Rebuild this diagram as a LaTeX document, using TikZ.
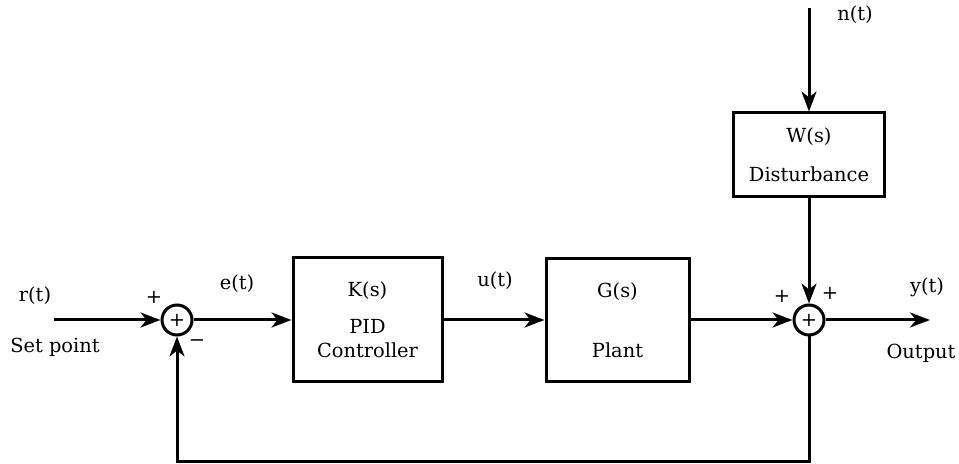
\documentclass[tikz,border=0pt]{standalone}
\usepackage{fontspec}
\setmainfont{DejaVu Serif}
\usepackage{tikz}
\usetikzlibrary{arrows.meta,positioning,calc}
\tikzset{
  block/.style={draw, line width=1.5pt, align=center, inner sep=0pt},
  sumnode/.style={draw, circle, line width=1.5pt, minimum size=15pt, inner sep=0pt},
  lbl/.style={inner sep=0pt},
  arr/.style={-{Stealth[length=10pt,width=7.5pt,inset=3pt]}, line width=1.5pt},
}

\begin{document}
\begin{tikzpicture}[x=0.5pt, y=-0.5pt, font=\fontsize{9.7}{12}\selectfont]
  \useasboundingbox (0,0) rectangle (959,464);
  % summing junctions and blocks
  \node[sumnode] (sum1) at (177,320) {+};
  \node[block, right=49pt of sum1, minimum width=74.5pt, minimum height=62pt] (K)
    {K(s)\\[6.5pt]PID\\Controller};
  \node[block, right=50.5pt of K, minimum width=71.5pt, minimum height=61.5pt] (G)
    {G(s)\\[18pt]Plant};
  \node[sumnode, right=51pt of G] (sum2) {+};
  \node[block, above=52.5pt of sum2, minimum width=75.5pt, minimum height=42pt] (W)
    {W(s)\\[7.5pt]Disturbance};
  % free ends
  \coordinate (in) at (54,320);
  \coordinate (out) at (930,320);
  \coordinate (nin) at (sum2 |- 0,8);
  % signals
  \draw[arr] (in) -- (sum1);
  \draw[arr] (sum1) -- (K);
  \draw[arr] (K) -- (G);
  \draw[arr] (G) -- (sum2);
  \draw[arr] (sum2) -- (out);
  \draw[arr] (nin) -- (W);
  \draw[arr] (W) -- (sum2);
  \draw[arr] (sum2.south) -- ++(0,125.5) -| (sum1.south);
  % labels
  \node[lbl] (rt) at (35,296) {r(t)};
  \node[lbl] (setp) at (55,347) {Set point};
  \node[lbl] (p1) at (154,297) {+};
  \node[lbl] (m1) at (197,343) {−};
  \node[lbl] (et) at (237,284) {e(t)};
  \node[lbl] (ut) at (495,281) {u(t)};
  \node[lbl] (p2) at (782,296) {+};
  \node[lbl] (p3) at (830,293) {+};
  \node[lbl] (yt) at (927,287) {y(t)};
  \node[lbl] (outp) at (921,353) {Output};
  \node[lbl] (nt) at (855,15) {n(t)};
\end{tikzpicture}
\end{document}
